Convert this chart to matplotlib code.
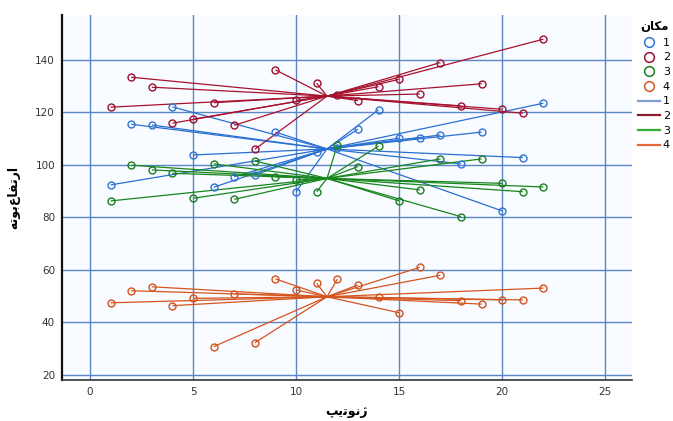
import matplotlib
import matplotlib.pyplot as plt
import numpy as np
from matplotlib.lines import Line2D

matplotlib.use("Agg")

plt.rcParams["font.family"] = ["DejaVu Sans"]

DPI = 100
FIGSIZE = (673 / DPI, 421 / DPI)

# ژنوتیپ 1..22 در هر مکان
genotype = [1, 2, 3, 4, 5, 6, 7, 8, 9, 10, 11, 12, 13, 14, 15, 16, 17, 18, 19, 20, 21, 22]

height_loc1 = [92.4, 115.5, 115.2, 122.1, 103.8, 91.5, 95.5, 96.2, 112.5, 89.8, 104.8,
               106.5, 113.6, 121.0, 110.2, 110.4, 111.4, 100.4, 112.5, 82.5, 102.8, 123.5]
height_loc2 = [122.0, 133.4, 129.6, 115.9, 117.4, 123.7, 115.1, 106.0, 136.2, 124.6, 131.1,
               126.5, 124.5, 129.8, 132.6, 127.0, 139.0, 122.5, 130.9, 121.2, 119.7, 147.9]
height_loc3 = [86.3, 99.9, 98.1, 96.8, 87.3, 100.4, 86.9, 101.5, 95.5, 94.3, 89.8,
               107.6, 99.4, 107.2, 86.3, 90.5, 102.3, 80.3, 102.3, 93.0, 89.8, 91.6]
height_loc4 = [47.5, 52.1, 53.6, 46.4, 49.2, 30.8, 50.9, 32.3, 56.6, 52.4, 54.9,
               56.5, 54.3, 49.8, 43.7, 61.0, 58.0, 48.3, 47.0, 48.6, 48.6, 53.1]

locations = ["1", "2", "3", "4"]
heights = [height_loc1, height_loc2, height_loc3, height_loc4]

POINT_COLORS = ["#2f74d6", "#9b1030", "#1c7f1c", "#d4521c"]
SPOKE_COLORS = ["#2a6fd2", "#a8122e", "#17861c", "#d6541e"]
KEY_LINE_COLORS = ["#7f9fd4", "#8c1c2c", "#35ad35", "#e4673a"]
GRID_COLOR = "#5b86c4"

# متن فارسی با شکل‌های ارائه و ترتیب دیداری (matplotlib شکل‌دهی عربی ندارد)
X_LABEL = "\uFB57\uFBFE\uFE97\uFEEE\uFEE7\uFB8A"            # ژنوتیپ
Y_LABEL = "\uFEEA\uFE97\uFEEE\uFE91\uFEC9\uFE8E\uFED4\uFE97\uFEAD\uFE8D"  # ارتفاع بوته
LEGEND_TITLE = "\uFEE5\uFE8E\uFB91\uFEE3"                    # مکان

fig = plt.figure(figsize=FIGSIZE, dpi=DPI)
ax = fig.add_axes([62 / 673, 1 - 380 / 421, 570 / 673, 365 / 421])
ax.set_facecolor("#f8fbff")

x = np.array(genotype, dtype=float)
for y, pc, lc in zip(heights, POINT_COLORS, SPOKE_COLORS):
    y = np.array(y)
    cx, cy = x.mean(), y.mean()
    # خط از مرکز گروه به هر نقطه
    for xi, yi in zip(x, y):
        ax.plot([cx, xi], [cy, yi], color=lc, lw=0.9, zorder=2, solid_capstyle="butt")
    ax.plot(x, y, "o", ms=5, mfc="none", mec=pc, mew=1.0, zorder=3)

ax.set_xlim(-1.36, 26.3)
ax.set_ylim(18.1, 157.1)
ax.set_xticks([0, 5, 10, 15, 20, 25])
ax.set_yticks([20, 40, 60, 80, 100, 120, 140])
ax.grid(True, color=GRID_COLOR, lw=1.0)
ax.set_axisbelow(True)
ax.tick_params(length=0, labelsize=7.5, labelcolor="#333333", pad=5)

ax.spines["top"].set_visible(False)
ax.spines["right"].set_visible(False)
ax.spines["left"].set_color("#111111")
ax.spines["left"].set_linewidth(1.6)
ax.spines["bottom"].set_color("#333333")
ax.spines["bottom"].set_linewidth(1.2)

ax.set_xlabel(X_LABEL, fontsize=9, fontweight="bold", labelpad=6)
ax.set_ylabel(Y_LABEL, fontsize=9, fontweight="bold", labelpad=11)

handles = [Line2D([], [], ls="none", marker="o", ms=7, mfc="none", mec=c, mew=1.1)
           for c in POINT_COLORS]
handles += [Line2D([], [], color=c, lw=1.6) for c in KEY_LINE_COLORS]
labels = locations + locations
leg = fig.legend(handles, labels, title=LEGEND_TITLE, loc="upper left",
                 bbox_to_anchor=(0.947, 0.955), frameon=False, fontsize=8,
                 labelspacing=0.42, handletextpad=0.3, handlelength=1.9,
                 borderaxespad=0, borderpad=0.1,
                 title_fontproperties={"weight": "bold", "size": 8.5})

fig.savefig("out.png", dpi=DPI)
